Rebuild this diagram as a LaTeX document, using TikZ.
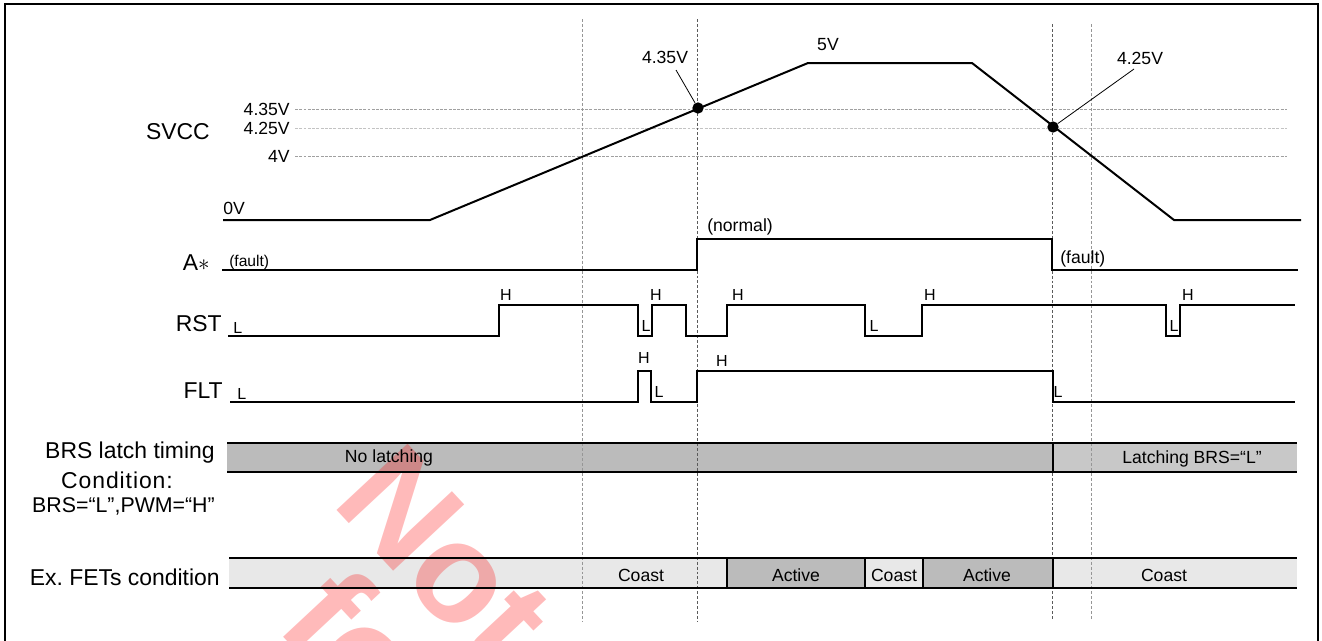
\documentclass[tikz,border=0pt]{standalone}
\usepackage{fontspec}
\setmainfont{Liberation Sans}
\definecolor{brsdark}{RGB}{187,187,187}
\definecolor{brslight}{RGB}{200,200,200}
\definecolor{coastc}{RGB}{232,232,232}
\definecolor{activec}{RGB}{187,187,187}
\definecolor{guidedark}{RGB}{90,90,90}
\definecolor{guidelight}{RGB}{150,150,150}
\definecolor{hguide}{RGB}{160,160,160}
\definecolor{hguidelight}{RGB}{195,195,195}
\frenchspacing
\begin{document}
\begin{tikzpicture}[x=0.75pt,y=-0.75pt,
  sig/.style={line width=1.5pt,line join=miter},
  vguide/.style={dash pattern=on 2.2pt off 1.5pt,line width=0.6pt},
  hguideline/.style={dash pattern=on 2.2pt off 1pt,line width=0.6pt},
  big/.style={font=\fontsize{17.2}{19}\selectfont,inner sep=0pt},
  mid/.style={font=\fontsize{13.2}{15}\selectfont,inner sep=0pt},
  lvl/.style={font=\fontsize{12}{14}\selectfont,inner sep=0pt},
  wm/.style={font=\fontsize{106}{110}\selectfont\bfseries,text=red,text opacity=0.27,inner sep=0pt,rotate=-47},
  dotst/.style={circle,fill=black,inner sep=0pt,minimum size=8.5pt}]
\useasboundingbox (0,0) rectangle (1322,640);
\begin{scope}
\clip (0,0) rectangle (1322,640);
% bar fills
\fill[brsdark] (227,443) rectangle (1053,472);
\fill[brslight] (1053,443) rectangle (1297,472);
\fill[coastc] (229,558) rectangle (1297,588);
\fill[activec] (727,558) rectangle (865,588);
\fill[activec] (923,558) rectangle (1053,588);
% watermark
\node[wm,anchor=base west] (wm1) at (330,503) {Not};
\node[wm,anchor=base west] (wm2) at (274,627) {for};
% frame
\draw[line width=1.5pt] (5,3.5) rectangle (1318,700);
\end{scope}
% horizontal guides
\draw[hguideline,hguide] (295,109) -- (1287,109);
\draw[hguideline,hguidelight] (295,128) -- (1287,128);
\draw[hguideline,hguide] (295,156) -- (1287,156);
% vertical guides
\draw[vguide,guidelight] (582,19) -- (582,622);
\draw[vguide,guidedark] (697,19) -- (697,622);
\draw[vguide,guidedark] (1052,24) -- (1052,620);
\draw[vguide,guidelight] (1091,24) -- (1091,620);
% bar lines
\draw[sig] (227,443) -- (1297,443);
\draw[sig] (227,472) -- (1297,472);
\draw[sig] (1053,443) -- (1053,472);
\draw[sig] (229,558) -- (1297,558);
\draw[sig] (229,588) -- (1297,588);
\foreach \xx in {727,865,923,1053} \draw[sig] (\xx,558) -- (\xx,588);
% SVCC
\draw[sig] (223,220) -- (430,220) -- (808,63) -- (972,63) -- (1174,220) -- (1301,220);
% A*
\draw[sig] (222,270) -- (697,270) -- (697,239) -- (1052,239) -- (1052,270) -- (1298,270);
% RST
\draw[sig] (228,336) -- (499,336) -- (499,305) -- (638,305) -- (638,336) -- (652,336) -- (652,305) -- (686,305) -- (686,336) -- (727,336) -- (727,305) -- (865,305) -- (865,336) -- (922,336) -- (922,305) -- (1166,305) -- (1166,336) -- (1180,336) -- (1180,305) -- (1295,305);
% FLT
\draw[sig] (230,402) -- (638,402) -- (638,371) -- (651,371) -- (651,402) -- (697,402) -- (697,371) -- (1053,371) -- (1053,402) -- (1295,402);
% dots and annotations
\node[dotst] (dotA) at (698,108) {};
\node[dotst] (dotB) at (1053,127) {};
\node[mid] (a435) at (665,57) {4.35V};
\node[mid] (a425) at (1140,58) {4.25V};
\coordinate (la) at (676,70);
\coordinate (lb) at (1134,69);
\draw[line width=0.6pt] (la) -- (dotA);
\draw[line width=0.6pt] (lb) -- (dotB);
\node[mid] (v5) at (828,45) {5V};
% left labels
\node[big,anchor=east] (svcc) at (210,132) {SVCC};
\node[mid,anchor=east] (g435) at (290,109) {4.35V};
\node[mid,anchor=east] (g425) at (290,128) {4.25V};
\node[mid,anchor=east] (g4) at (290,156) {4V};
\node[mid,anchor=west] (g0) at (223,208) {0V};
\node[big,anchor=east] (astar) at (210,263) {A$\ast$};
\node[font=\fontsize{11.7}{14}\selectfont,inner sep=0pt,anchor=west] (flt1) at (229,262) {(fault)};
\node[mid,anchor=west] (nrm) at (707,227) {(normal)};
\node[mid,anchor=west] (flt2) at (1060,259) {(fault)};
\node[big,anchor=east] (rst) at (222,324) {RST};
\node[lvl,anchor=west] (rL0) at (233,328) {L};
\node[big,anchor=east] (flt) at (223,391) {FLT};
\node[lvl,anchor=west] (fL0) at (237,394) {L};
% RST level labels
\node[lvl] (rH1) at (506,295) {H};
\node[lvl] (rL1) at (646,326) {L};
\node[lvl] (rH2) at (656,295) {H};
\node[lvl] (rH3) at (738,295) {H};
\node[lvl] (rL2) at (874,326) {L};
\node[lvl] (rH4) at (930,295) {H};
\node[lvl] (rL3) at (1174,326) {L};
\node[lvl] (rH5) at (1188,295) {H};
% FLT level labels
\node[lvl] (fH1) at (644,358) {H};
\node[lvl] (fL1) at (659,392) {L};
\node[lvl] (fH2) at (722,361) {H};
\node[lvl] (fL2) at (1058,392) {L};
% bar labels
\node[big,anchor=east] (brs1) at (215,453) {BRS latch timing};
\node[big] (brs2) at (117,480) {\addfontfeature{LetterSpace=4}Condition:};
\node[font=\fontsize{16}{18}\selectfont,inner sep=0pt,anchor=east] (brs3) at (215,506) {BRS=“L”,PWM=“H”};
\node[big,anchor=east] (fets) at (220,577) {Ex. FETs condition};
\node[mid] (nolatch) at (389,458) {No latching};
\node[mid] (latch) at (1192,459) {Latching BRS=“L”};
\node[mid] (c1) at (641,575) {Coast};
\node[mid] (ac1) at (796,575) {Active};
\node[mid] (c2) at (894,575) {Coast};
\node[mid] (ac2) at (987,575) {Active};
\node[mid] (c3) at (1164,575) {Coast};
\end{tikzpicture}
\end{document}
